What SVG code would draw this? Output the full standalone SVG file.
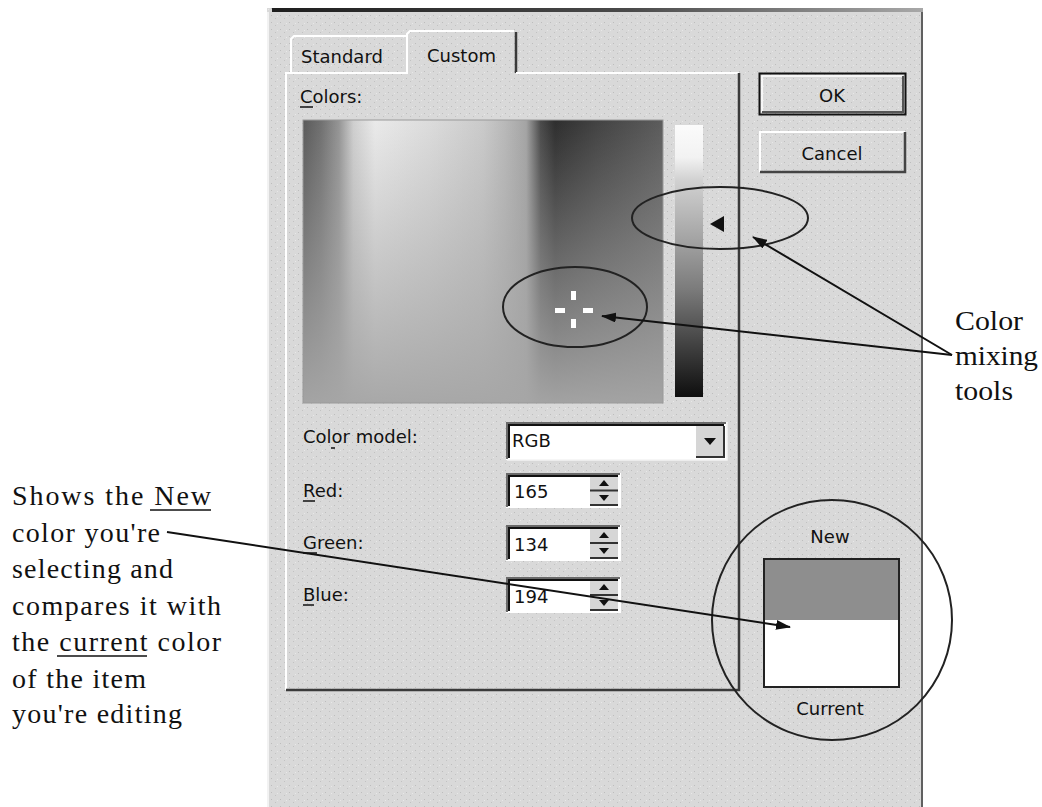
<svg xmlns="http://www.w3.org/2000/svg" width="1042" height="807" viewBox="0 0 1042 807">
  <style>
    .ui { font-family: "DejaVu Sans", "Liberation Sans", sans-serif; font-size: 18px; fill: #111; }
    .note { font-family: "Liberation Serif", "Times New Roman", serif; font-size: 28px; fill: #111; }
    .conn { stroke: #111; stroke-width: 2; fill: none; }
    .hl { stroke: #ffffff; stroke-width: 2; fill: none; }
    .sh { stroke: #3a3a3a; stroke-width: 2.5; fill: none; }
    .ring { stroke: #222; stroke-width: 2; fill: none; }
    .ul { stroke: #111; stroke-width: 1.5; }
  </style>
  <defs>
    <pattern id="noise" width="9" height="7" patternUnits="userSpaceOnUse">
      <rect width="9" height="7" fill="#d9d9d9"/>
      <rect x="1" y="1" width="1" height="1" fill="#bdbdbd"/>
      <rect x="5" y="4" width="1" height="1" fill="#c2c2c2"/>
      <rect x="7" y="2" width="1" height="1" fill="#e8e8e8"/>
    </pattern>
    <linearGradient id="topbar" x1="0" y1="0" x2="1" y2="0">
      <stop offset="0" stop-color="#1e1e1e"/>
      <stop offset="0.55" stop-color="#4a4a4a"/>
      <stop offset="1" stop-color="#a8a8a8"/>
    </linearGradient>
    <linearGradient id="hue" x1="0" y1="0" x2="1" y2="0">
      <stop offset="0" stop-color="#5a5a5a"/>
      <stop offset="0.05" stop-color="#707070"/>
      <stop offset="0.1" stop-color="#959595"/>
      <stop offset="0.14" stop-color="#cfcfcf"/>
      <stop offset="0.2" stop-color="#eaeaea"/>
      <stop offset="0.35" stop-color="#dcdcdc"/>
      <stop offset="0.5" stop-color="#cacaca"/>
      <stop offset="0.56" stop-color="#b9b9b9"/>
      <stop offset="0.62" stop-color="#a4a4a4"/>
      <stop offset="0.66" stop-color="#4a4a4a"/>
      <stop offset="0.7" stop-color="#2e2e2e"/>
      <stop offset="0.82" stop-color="#434343"/>
      <stop offset="1" stop-color="#5c5c5c"/>
    </linearGradient>
    <linearGradient id="sat" x1="0" y1="0" x2="0" y2="1">
      <stop offset="0" stop-color="#a6a6a6" stop-opacity="0"/>
      <stop offset="0.45" stop-color="#a6a6a6" stop-opacity="0.45"/>
      <stop offset="1" stop-color="#a6a6a6" stop-opacity="0.97"/>
    </linearGradient>
    <linearGradient id="lum" x1="0" y1="0" x2="0" y2="1">
      <stop offset="0" stop-color="#fbfbfb"/>
      <stop offset="0.12" stop-color="#f2f2f2"/>
      <stop offset="0.2" stop-color="#d2d2d2"/>
      <stop offset="0.4" stop-color="#a8a8a8"/>
      <stop offset="0.6" stop-color="#7c7c7c"/>
      <stop offset="0.8" stop-color="#444"/>
      <stop offset="1" stop-color="#0e0e0e"/>
    </linearGradient>
    <marker id="arr" markerWidth="15" markerHeight="10" refX="14" refY="5" orient="auto" markerUnits="userSpaceOnUse">
      <path d="M0,0 L15,5 L0,10 z" fill="#111"/>
    </marker>
  </defs>

  <rect width="1042" height="807" fill="#ffffff"/>

  <g id="dialog">
    <rect x="267" y="8" width="656" height="799" fill="url(#noise)"/>
    <rect x="272" y="8" width="651" height="4" fill="url(#topbar)"/>
    <line x1="268" y1="12" x2="268" y2="807" stroke="#f2f2f2" stroke-width="2"/>
    <line x1="922" y1="12" x2="922" y2="807" stroke="#606060" stroke-width="2"/>
  </g>

  <g id="tabs">
    <path class="hl" d="M291,73 L291,39 L294,36 L406,36"/>
    <text class="ui" x="301" y="63">Standard</text>
    <path d="M407,73 L407,34 L410,31 L514,31 L516,33 L516,73" fill="url(#noise)"/>
    <path class="hl" d="M407,74 L407,34 L410,31 L514,31"/>
    <line x1="516" y1="32" x2="516" y2="73" class="sh"/>
    <text class="ui" x="427" y="62">Custom</text>
  </g>

  <g id="panel">
    <path class="hl" d="M286,690 L286,73 L407,73 M516,73 L739,73"/>
    <path class="sh" d="M739,73 L739,690 L286,690"/>
    <text class="ui" x="300" y="103">Colors:</text>
    <line class="ul" x1="300" y1="107" x2="313" y2="107"/>
  </g>

  <g id="color-field">
    <rect x="303" y="120" width="360" height="283" fill="url(#hue)"/>
    <rect x="303" y="120" width="360" height="283" fill="url(#sat)"/>
    <rect x="303" y="120" width="360" height="283" fill="none" stroke="#9a9a9a" stroke-width="1"/>
    <g fill="#ffffff">
      <rect x="571" y="291" width="5" height="9"/>
      <rect x="571" y="319" width="5" height="9"/>
      <rect x="555" y="308" width="10" height="5"/>
      <rect x="583" y="308" width="10" height="5"/>
    </g>
  </g>

  <g id="luminance-bar">
    <rect x="675" y="125" width="28" height="272" fill="url(#lum)"/>
    <polygon points="710,224 724,216 724,232" fill="#111"/>
  </g>

  <g id="ok-button">
    <rect x="759.5" y="73.5" width="146" height="41" fill="url(#noise)" stroke="#111" stroke-width="2"/>
    <path d="M762,112 L762,76 L903,76" stroke="#fff" stroke-width="1.5" fill="none"/>
    <path d="M762,112 L903,112 L903,76" stroke="#555" stroke-width="2" fill="none"/>
    <text class="ui" x="832" y="102" text-anchor="middle">OK</text>
  </g>

  <g id="cancel-button">
    <rect x="759" y="131" width="147" height="42" fill="url(#noise)"/>
    <path d="M760,172 L760,132 L905,132" stroke="#fff" stroke-width="2" fill="none"/>
    <path d="M760,172 L905,172 L905,132" stroke="#444" stroke-width="2.5" fill="none"/>
    <text class="ui" x="832" y="160" text-anchor="middle">Cancel</text>
  </g>

  <g id="color-model">
    <text class="ui" x="303" y="443">Color model:</text>
    <line class="ul" x1="331" y1="448" x2="335" y2="448"/>
    <rect x="506" y="422" width="221" height="38" fill="#ffffff"/>
    <path d="M507,459 L507,423 L726,423" stroke="#6a6a6a" stroke-width="2" fill="none"/>
    <path d="M509,458 L509,425 L724,425" stroke="#111" stroke-width="2" fill="none"/>
    <path d="M507,460 L727,460 L727,422" stroke="#f4f4f4" stroke-width="1.5" fill="none"/>
    <rect x="696" y="426" width="28" height="31" fill="#d6d6d6"/>
    <path d="M696,457 L724,457 L724,426" stroke="#333" stroke-width="2" fill="none"/>
    <polygon points="704,438 716,438 710,445" fill="#111"/>
    <text class="ui" x="512" y="447">RGB</text>
  </g>

  <g id="red">
    <text class="ui" x="303" y="497">Red:</text>
    <line class="ul" x1="303" y1="501" x2="315" y2="501"/>
    <rect x="506" y="473" width="115" height="35" fill="#ffffff"/>
    <path d="M507,507 L507,474 L620,474" stroke="#6a6a6a" stroke-width="2" fill="none"/>
    <path d="M509,506 L509,476 L618,476" stroke="#111" stroke-width="2" fill="none"/>
    <rect x="590" y="477" width="28" height="29" fill="#d6d6d6"/>
    <line x1="590" y1="490.5" x2="618" y2="490.5" stroke="#333" stroke-width="2"/>
    <line x1="590" y1="505" x2="618" y2="505" stroke="#333" stroke-width="2"/>
    <polygon points="604,480 609,486 599,486" fill="#111"/>
    <polygon points="599,495 609,495 604,501" fill="#111"/>
    <text class="ui" x="514" y="498">165</text>
  </g>

  <g id="green">
    <text class="ui" x="303" y="549">Green:</text>
    <line class="ul" x1="303" y1="553" x2="317" y2="553"/>
    <rect x="506" y="525" width="115" height="36" fill="#ffffff"/>
    <path d="M507,560 L507,526 L620,526" stroke="#6a6a6a" stroke-width="2" fill="none"/>
    <path d="M509,559 L509,528 L618,528" stroke="#111" stroke-width="2" fill="none"/>
    <rect x="590" y="529" width="28" height="30" fill="#d6d6d6"/>
    <line x1="590" y1="543" x2="618" y2="543" stroke="#333" stroke-width="2"/>
    <line x1="590" y1="558" x2="618" y2="558" stroke="#333" stroke-width="2"/>
    <polygon points="604,532 609,538 599,538" fill="#111"/>
    <polygon points="599,548 609,548 604,554" fill="#111"/>
    <text class="ui" x="514" y="551">134</text>
  </g>

  <g id="blue">
    <text class="ui" x="303" y="601">Blue:</text>
    <line class="ul" x1="303" y1="605" x2="314" y2="605"/>
    <rect x="506" y="577" width="115" height="36" fill="#ffffff"/>
    <path d="M507,612 L507,578 L620,578" stroke="#6a6a6a" stroke-width="2" fill="none"/>
    <path d="M509,611 L509,580 L618,580" stroke="#111" stroke-width="2" fill="none"/>
    <rect x="590" y="581" width="28" height="30" fill="#d6d6d6"/>
    <line x1="590" y1="595" x2="618" y2="595" stroke="#333" stroke-width="2"/>
    <line x1="590" y1="610" x2="618" y2="610" stroke="#333" stroke-width="2"/>
    <polygon points="604,584 609,590 599,590" fill="#111"/>
    <polygon points="599,600 609,600 604,606" fill="#111"/>
    <text class="ui" x="514" y="603">194</text>
  </g>

  <g id="new-current">
    <text class="ui" x="830" y="543" text-anchor="middle">New</text>
    <rect x="764" y="559" width="135" height="61" fill="#8e8e8e"/>
    <rect x="764" y="620" width="135" height="67" fill="#ffffff"/>
    <rect x="764" y="559" width="135" height="128" fill="none" stroke="#222" stroke-width="2"/>
    <text class="ui" x="830" y="715" text-anchor="middle">Current</text>
  </g>

  <g id="highlights">
    <ellipse class="ring" cx="720" cy="218" rx="88" ry="31"/>
    <ellipse class="ring" cx="575" cy="307" rx="72" ry="40"/>
    <circle class="ring" cx="832" cy="620" r="120"/>
  </g>

  <g id="connectors">
    <line class="conn" x1="167" y1="532" x2="790" y2="627" marker-end="url(#arr)"/>
    <line class="conn" x1="952" y1="355" x2="602" y2="316" marker-end="url(#arr)"/>
    <line class="conn" x1="952" y1="355" x2="753" y2="237" marker-end="url(#arr)"/>
  </g>

  <g id="label-mixing">
    <text class="note" x="955" y="330" textLength="68" lengthAdjust="spacingAndGlyphs">Color</text>
    <text class="note" x="955" y="365" textLength="83" lengthAdjust="spacingAndGlyphs">mixing</text>
    <text class="note" x="955" y="400" textLength="58" lengthAdjust="spacingAndGlyphs">tools</text>
  </g>

  <g id="label-new">
    <text class="note" x="12" y="505" textLength="199" lengthAdjust="spacing">Shows the New</text>
    <line class="ul" x1="150" y1="510" x2="211" y2="510"/>
    <text class="note" x="12" y="542" textLength="148" lengthAdjust="spacing">color you're</text>
    <text class="note" x="12" y="578" textLength="161" lengthAdjust="spacing">selecting and</text>
    <text class="note" x="12" y="615" textLength="209" lengthAdjust="spacing">compares it with</text>
    <text class="note" x="12" y="651" textLength="209" lengthAdjust="spacing">the current color</text>
    <line class="ul" x1="57" y1="656" x2="147" y2="656"/>
    <text class="note" x="12" y="688" textLength="134" lengthAdjust="spacing">of the item</text>
    <text class="note" x="12" y="723" textLength="170" lengthAdjust="spacing">you're editing</text>
  </g>
</svg>
